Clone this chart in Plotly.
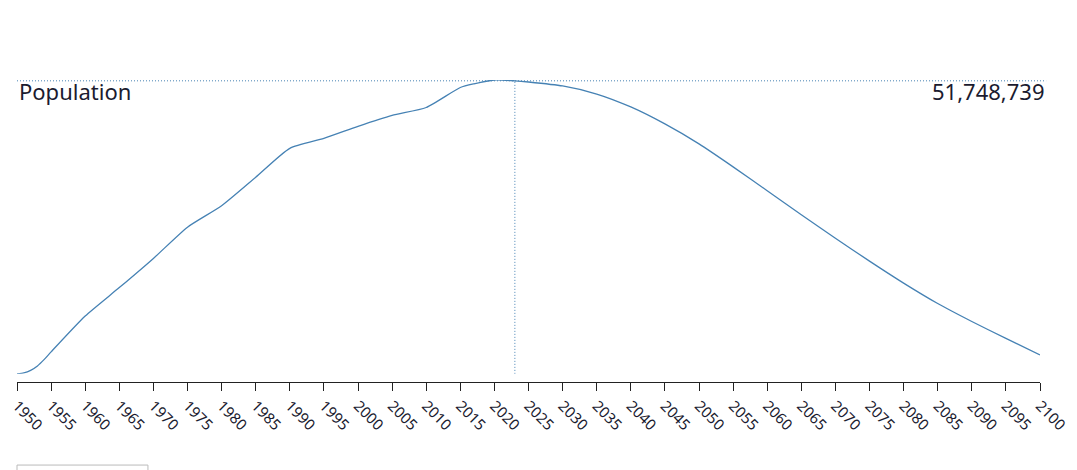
import plotly.graph_objects as go

# population (people), 1950-2100
years = [1950, 1951, 1952, 1953, 1954, 1955, 1960, 1965, 1970, 1975, 1980, 1985, 1990,
         1995, 2000, 2005, 2010, 2015, 2017, 2020, 2023, 2025, 2030, 2035, 2040,
         2045, 2050, 2055, 2060, 2065, 2070, 2075, 2080, 2085, 2090, 2095, 2100]
population = [19330000, 19440000, 19720000, 20210000, 20930000, 21760000, 25730000,
              28870000, 32100000, 35560000, 37930000, 41080000, 44280000, 45380000,
              46710000, 47920000, 48800000, 51010000, 51420000, 51840000, 51748739,
              51620000, 51180000, 50290000, 48860000, 46980000, 44770000, 42230000,
              39590000, 36940000, 34340000, 31800000, 29370000, 27110000, 25120000,
              23250000, 21430000]

tick_years = list(range(1950, 2101, 5))
label = "Population"
hover_year = 2023
hover_value = population[years.index(hover_year)]

blue = "#4682b4"
ink = "#1b1b2f"

fig = go.Figure()
fig.add_trace(go.Scatter(x=years, y=population, mode="lines",
                         line=dict(color=blue, width=1.3, shape="spline", smoothing=0.6),
                         hoverinfo="skip", showlegend=False, cliponaxis=False))

# crosshair
dots = dict(color=blue, width=1, dash="1px,2px")
fig.add_shape(type="line", xref="paper", yref="y", x0=0, x1=1.006,
              y0=hover_value, y1=hover_value, line=dots)
fig.add_shape(type="line", xref="x", yref="y", x0=hover_year, x1=hover_year,
              y0=min(population), y1=hover_value, line=dots)

fig.add_annotation(text=label, xref="paper", yref="paper", x=0, y=1,
                   xanchor="left", yanchor="top", showarrow=False, yshift=6,
                   font=dict(size=22, color=ink))
fig.add_annotation(text=f"{hover_value:,}", xref="paper", yref="paper", x=1.006, y=1,
                   xanchor="right", yanchor="top", showarrow=False, yshift=6,
                   font=dict(size=22, color=ink))

# the box peeking in at the bottom
fig.add_shape(type="rect", xref="paper", yref="paper", x0=0, x1=0.128, y0=-0.275, y1=-0.5,
              line=dict(color="#bbbbbb", width=1), fillcolor="rgba(0,0,0,0)")

# page body adds 8px around the figure
fig.update_layout(
    width=1077, height=470,
    margin=dict(l=9, r=45, t=72, b=96, autoexpand=False),
    paper_bgcolor="white", plot_bgcolor="white",
    font=dict(family="Noto Sans, Open Sans, sans-serif", color=ink),
    xaxis=dict(range=[1950, 2100], tickvals=tick_years, ticktext=[str(t) for t in tick_years],
               tickangle=45, showgrid=False, zeroline=False, automargin=False,
               showline=True, linecolor="#222222", linewidth=1.3,
               ticks="outside", ticklen=8, tickwidth=1.3, tickcolor="#222222",
               tickfont=dict(size=15, color=ink),
               anchor="free", position=0),
    yaxis=dict(range=[min(population), max(population)], domain=[0.027, 1],
               visible=False, showgrid=False, zeroline=False, automargin=False),
)

fig.write_html("out.html")
